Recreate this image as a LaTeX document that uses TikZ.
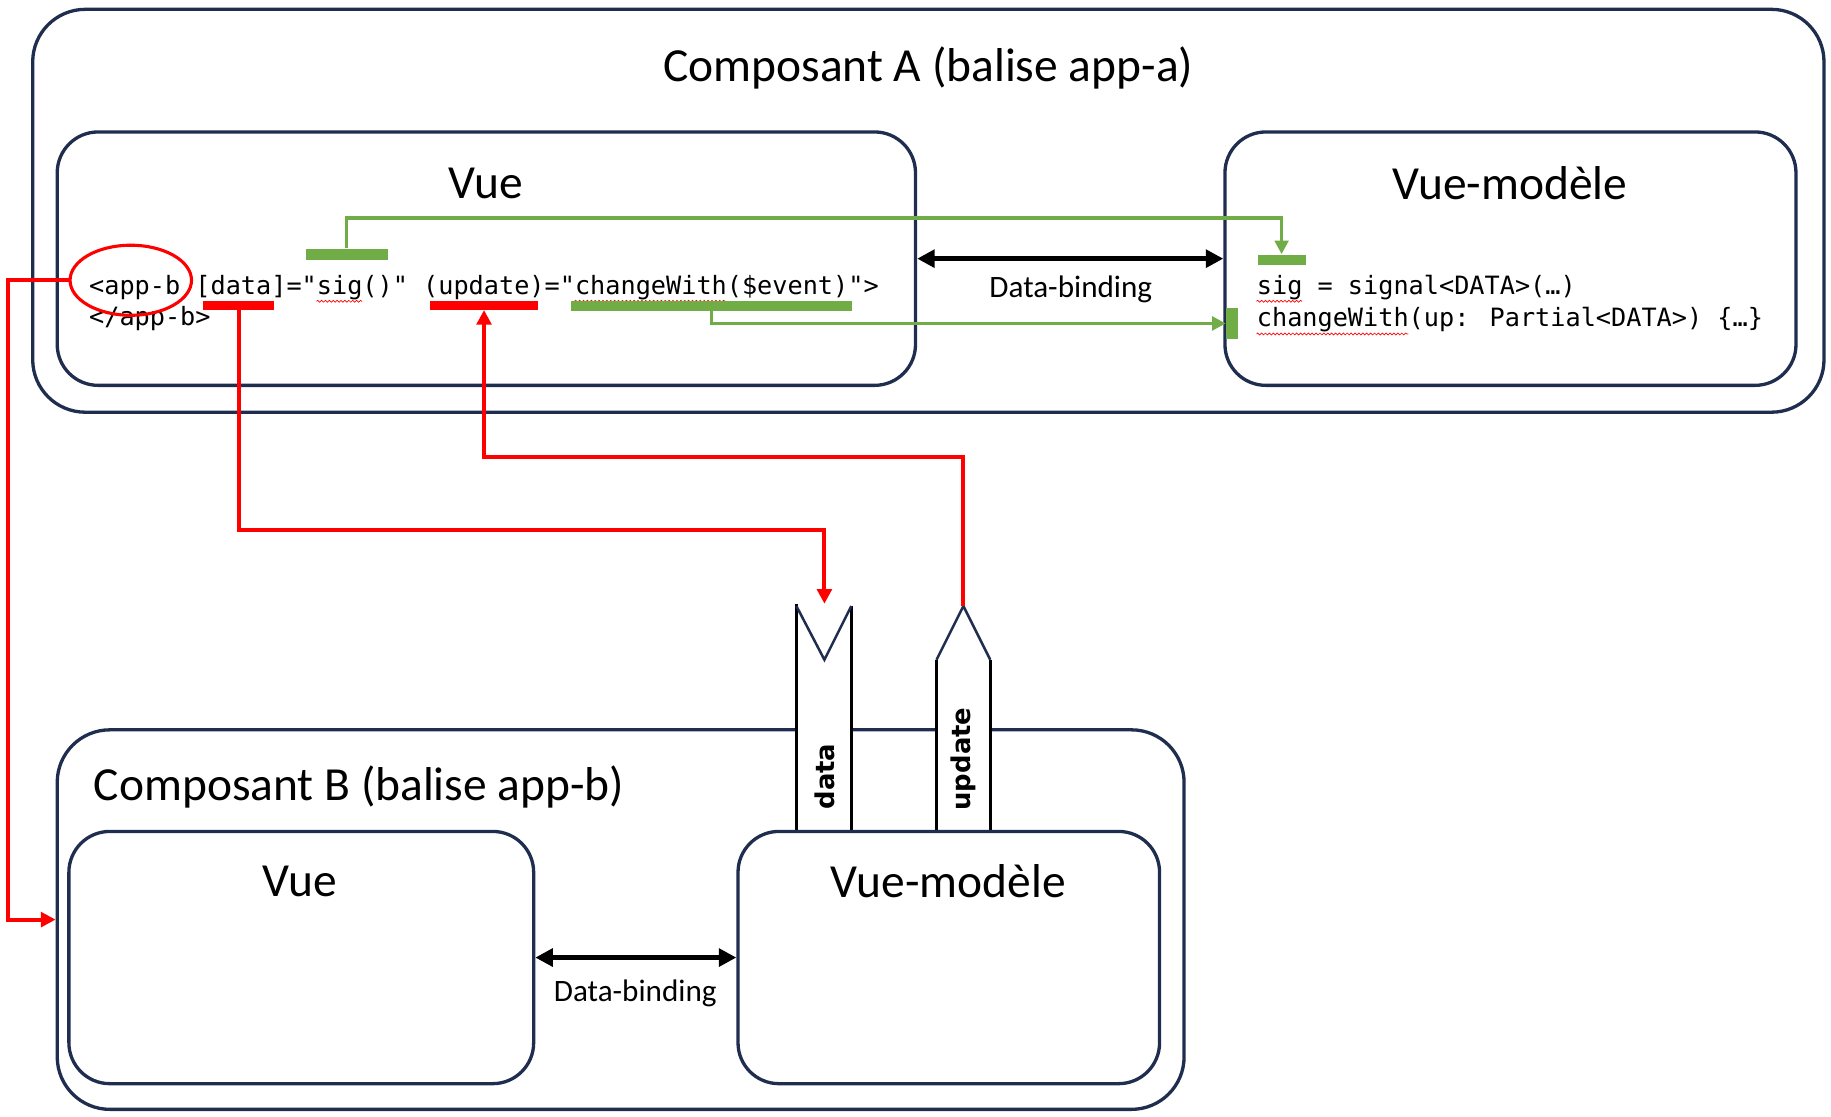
\documentclass[tikz,border=0pt]{standalone}
\usepackage{fontspec}
\setmainfont{Carlito}
\newfontfamily\codefont{DejaVu Sans Mono}
\newfontfamily\bannerfont{DejaVu Sans}
\usetikzlibrary{shapes.geometric,arrows.meta,decorations.pathmorphing}
\definecolor{navy}{HTML}{1F2D4E}
\definecolor{offgreen}{HTML}{70AD47}
\definecolor{bred}{HTML}{FF0000}
\begin{document}
\begin{tikzpicture}[x=0.6pt,y=-0.6pt,
  outerbox/.style={draw=navy,line width=1.7pt,rounded corners=27pt,inner sep=0pt},
  innerbox/.style={draw=navy,line width=1.7pt,rounded corners=21pt,inner sep=0pt},
  title/.style={font=\fontsize{24.4}{28}\selectfont,inner sep=0pt},
  dblabel/.style={font=\fontsize{16}{19}\selectfont,inner sep=0pt},
  code/.style={font=\codefont\fontsize{12.96}{15}\selectfont,inner sep=0pt,anchor=base west},
  redbar/.style={fill=bred,inner sep=0pt},
  greenbar/.style={fill=offgreen,inner sep=0pt},
  redline/.style={draw=bred,line width=2pt},
  redarrow/.style={redline,-{Triangle[length=7.5pt,width=7.5pt]}},
  greenarrow/.style={draw=offgreen,line width=1.7pt,-{Triangle[length=7pt,width=7pt]}},
  dbarrow/.style={draw=black,line width=2.6pt,{Triangle[length=9pt,width=9pt]}-{Triangle[length=9pt,width=9pt]}},
  squiggle/.style={draw=bred,line width=0.35pt,decorate,decoration={snake,amplitude=0.5pt,segment length=2pt}},
  bannertext/.style={font=\bannerfont\bfseries\fontsize{13.3}{16}\selectfont,inner sep=0pt,rotate=90}
]
\useasboundingbox (0,0) rectangle (1568,956);

% ---------- Composant A ----------
\node[outerbox,minimum width=920.4pt,minimum height=207pt] (compA) at (795,180.5) {};
\node[title] (titleA) at (795,58) {Composant A (balise app-a)};
\node[innerbox,minimum width=441pt,minimum height=130.2pt] (vueA) at (416.5,221.5) {};
\node[title] (tvueA) at (416,157) {Vue};
\node[innerbox,minimum width=293.4pt,minimum height=130.2pt] (vmA) at (1293.5,221.5) {};
\node[title] (tvmA) at (1293,157) {Vue-modèle};

\draw[dbarrow] (vueA.east) -- (vmA.west);
\node[dblabel] (dbA) at (917,248) {Data-binding};

% code in Vue A
\node[code] (codeA1) at (76,252) {<app-b [data]="sig()"  (update)="changeWith(\$event)">};
\node[code] (codeA2) at (76,279) {</app-b>};
% code in Vue-modele A
\node[code] (codeV1) at (1076,252) {sig = signal<DATA>(…)};
\node[code] (codeV2) at (1076,280) {changeWith(up: Partial<DATA>) \{…\}};

% spell-check squiggles
\draw[squiggle] (271,258) -- (310,258);
\draw[squiggle] (492,258) -- (622,258);
\draw[squiggle] (1076,258) -- (1115,258);
\draw[squiggle] (1076,286) -- (1206,286);

% highlight bars
\node[redbar,minimum width=36.6pt,minimum height=4.4pt] (databar) at (204.5,261.5) {};
\node[redbar,minimum width=55.8pt,minimum height=4.4pt] (updbar) at (414.5,261.5) {};
\node[greenbar,minimum width=144.6pt,minimum height=4.8pt] (cwbar) at (609.5,262) {};
\node[greenbar,minimum width=42pt,minimum height=6pt] (sigbar) at (297,218) {};
\node[greenbar,minimum width=24.6pt,minimum height=5.4pt] (vmsigbar) at (1097.5,222.5) {};
\node[greenbar,minimum width=6pt,minimum height=15.6pt] (vmcwbar) at (1055,277) {};

% red ellipse around <app-b
\node[ellipse,draw=bred,line width=1.6pt,minimum width=62.4pt,minimum height=36pt,inner sep=0pt] (appcirc) at (112,240) {};

% green connectors
\draw[greenarrow] (sigbar.north) -- ++(0,-26) -| (vmsigbar.north);
\draw[greenarrow] (cwbar.south) |- (vmcwbar.west);

% ---------- Composant B ----------
\node[outerbox,minimum width=579pt,minimum height=195pt] (compB) at (531.5,787.5) {};
\node[title,anchor=west] (titleB) at (80,674) {Composant B (balise app-b)};

% banners
\coordinate (dtip) at (706,517);
\coordinate (utip) at (825,519);
\fill[white] (682,712) -- (682,519) -- (706,565) -- (729,519) -- (729,712) -- cycle;
\draw[black,line width=1.6pt] (682,712) -- (682,517);
\draw[black,line width=1.6pt] (729,712) -- (729,519);
\draw[navy,line width=1.3pt] (682,519) -- (706,565) -- (729,519);
\fill[white] (802,712) -- (802,565) -- (825,519) -- (848,565) -- (848,712) -- cycle;
\draw[black,line width=1.6pt] (802,712) -- (802,565);
\draw[black,line width=1.6pt] (848,712) -- (848,565);
\draw[navy,line width=1.3pt] (802,565) -- (825,519) -- (848,565);
\node[bannertext] (dtext) at (706,665) {data};
\node[bannertext] (utext) at (825,650) {update};

\node[innerbox,minimum width=238.8pt,minimum height=129.6pt] (vueB) at (258,820) {};
\node[title] (tvueB) at (257,755) {Vue};
\node[innerbox,fill=white,minimum width=216.6pt,minimum height=129.6pt] (vmB) at (812.5,820) {};
\node[title] (tvmB) at (812,755) {Vue-modèle};

\draw[dbarrow] (vueB.east) -- (vmB.west);
\node[dblabel] (dbB) at (544,851) {Data-binding};

% red connectors
\draw[redarrow] (databar.south) -- ++(0,188) -| (dtip);
\draw[redarrow] (utip) -- ++(0,-128) -| (updbar.south);
\draw[redarrow] (appcirc.west) -- ++(-52,0) |- (compB.west);
\end{tikzpicture}
\end{document}
